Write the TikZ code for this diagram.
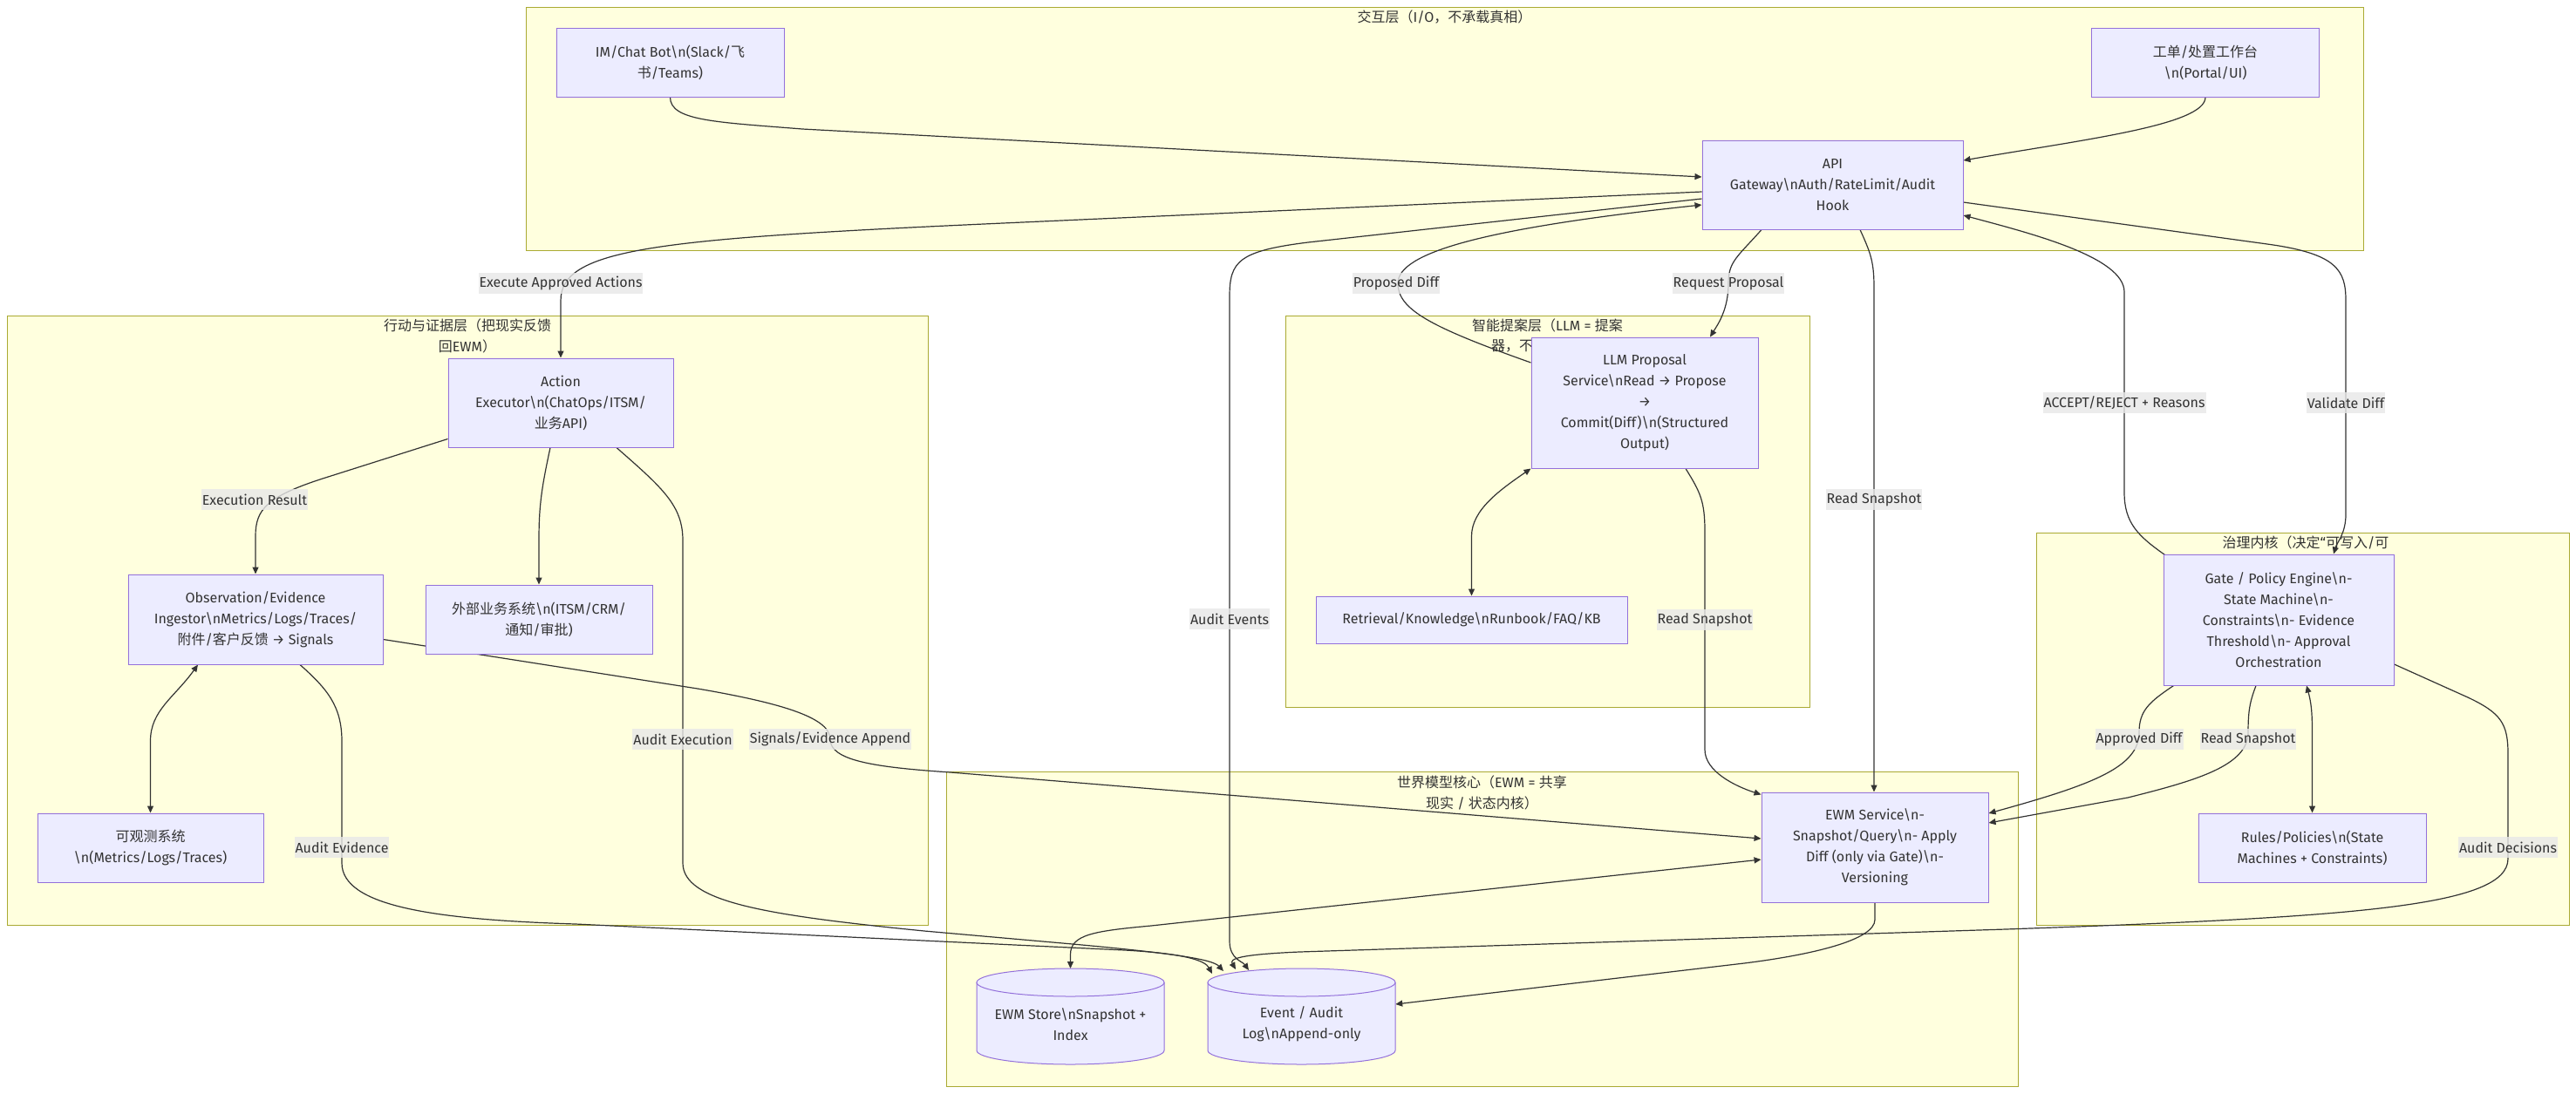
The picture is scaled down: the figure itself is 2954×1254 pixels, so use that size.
\documentclass[tikz,border=0pt]{standalone}
\usepackage{fontspec}
\setmainfont{Fira Sans}
\newfontfamily\cjk{Noto Sans CJK SC}
\usetikzlibrary{arrows.meta,calc}
\definecolor{clfill}{HTML}{FFFFDE}
\definecolor{cldraw}{HTML}{AAAA33}
\definecolor{ndfill}{HTML}{ECECFF}
\definecolor{nddraw}{HTML}{9370DB}
\definecolor{edgec}{HTML}{333333}
\definecolor{txt}{HTML}{333333}
\definecolor{lblbg}{HTML}{E8E8E8}
\pgfdeclarelayer{clusters}
\pgfdeclarelayer{edges}
\pgfdeclarelayer{labels}
\pgfdeclarelayer{shapes}
\pgfsetlayers{clusters,edges,labels,shapes,main}
\newcommand\bs{\textbackslash}
\newcommand\mfont{\fontsize{16pt}{24pt}\selectfont}
% cylinder drawn around a text node (text sits 9 below the geometric centre)
\newcommand\dbshape[1]{%
  \fill[ndfill] ($(#1.center)+(-107.5,-48)$) -- ($(#1.center)+(-107.5,30)$)
    .. controls ($(#1.center)+(-107.5,38.84)$) and ($(#1.center)+(-59.37,46)$) .. ($(#1.center)+(0,46)$)
    .. controls ($(#1.center)+(59.37,46)$) and ($(#1.center)+(107.5,38.84)$) .. ($(#1.center)+(107.5,30)$)
    -- ($(#1.center)+(107.5,-48)$) -- cycle;
  \draw[nddraw,line width=1pt] ($(#1.center)+(-107.5,-48)$) -- ($(#1.center)+(-107.5,30)$)
    .. controls ($(#1.center)+(-107.5,38.84)$) and ($(#1.center)+(-59.37,46)$) .. ($(#1.center)+(0,46)$)
    .. controls ($(#1.center)+(59.37,46)$) and ($(#1.center)+(107.5,38.84)$) .. ($(#1.center)+(107.5,30)$)
    -- ($(#1.center)+(107.5,-48)$);
  \filldraw[fill=ndfill,draw=nddraw,line width=1pt] ($(#1.center)+(0,-48)$) ellipse [x radius=107.5, y radius=16];
}
\begin{document}
\begin{tikzpicture}[x=1pt,y=-1pt,
  box/.style={draw=nddraw, fill=ndfill, line width=1pt, align=center, inner sep=0pt, text=txt, font=\mfont},
  dbtext/.style={align=center, inner sep=0pt, text=txt, font=\mfont, minimum width=215pt, minimum height=92pt},
  cluster/.style={draw=cldraw, fill=clfill, line width=1pt, inner sep=0pt},
  ctitle/.style={text=txt, font=\mfont, align=center, inner sep=0pt},
  conn/.style={draw=edgec, line width=1.2pt, -{Triangle[length=8pt,width=7pt]}},
  bidir/.style={draw=edgec, line width=1.2pt, {Triangle[length=8pt,width=7pt]}-{Triangle[length=8pt,width=7pt]}},
  elabel/.style={fill=lblbg, fill opacity=0.8, text opacity=1, text=txt, font=\mfont, inner xsep=1pt, inner ysep=0pt, minimum height=24pt}
]
\useasboundingbox (0,0) rectangle (2954,1254);

% ---------------- clusters ----------------
\begin{pgfonlayer}{clusters}
\fill[white] (0,0) rectangle (2954,1254);
\node[cluster, minimum width=2107pt, minimum height=279pt] (c1) at (1656.5,147.5) {};
\node[cluster, minimum width=1056pt, minimum height=699pt] (c2) at (536,711.5) {};
\node[cluster, minimum width=601pt, minimum height=449pt] (c3) at (1774.5,586.5) {};
\node[cluster, minimum width=611pt, minimum height=450pt] (c4) at (2640.5,836) {};
\node[cluster, minimum width=1229pt, minimum height=361pt] (c5) at (1699.5,1065.5) {};
\node[ctitle] (t1) at (1656.5,20) {{\cjk 交互层（}I/O{\cjk ，不承载真相）}};
\node[ctitle] (t2) at (536,385) {{\cjk 行动与证据层（把现实反馈}\\{\cjk 回}EWM{\cjk ）}};
\node[ctitle] (t3a) at (1774.5,373) {{\cjk 智能提案层（}LLM = {\cjk 提案}};
\node[ctitle, anchor=west] (t3b) at (1710,397) {{\cjk 器，不}};
\node[ctitle] (t4) at (2644,622) {{\cjk 治理内核（决定}“{\cjk 可写入}/{\cjk 可}};
\node[ctitle] (t5) at (1699.5,909) {{\cjk 世界模型核心（}EWM = {\cjk 共享}\\{\cjk 现实} / {\cjk 状态内核）}};
\end{pgfonlayer}

% ---------------- nodes ----------------
\node[box, minimum width=261pt, minimum height=79pt] (im) at (768.5,71.5) {IM/Chat Bot\bs n(Slack/{\cjk 飞}\\{\cjk 书}/Teams)};
\node[box, minimum width=261pt, minimum height=79pt] (ticket) at (2529,71.5) {{\cjk 工单}/{\cjk 处置工作台}\\\bs n(Portal/UI)};
\node[box, minimum width=299pt, minimum height=102pt] (api) at (2101.5,212) {API\\Gateway\bs nAuth/RateLimit/Audit\\Hook};
\node[box, minimum width=258pt, minimum height=102pt] (action) at (643,462) {Action\\Executor\bs n(ChatOps/ITSM/\\{\cjk 业务}API)};
\node[box, minimum width=292pt, minimum height=103pt] (obs) at (293,710.5) {Observation/Evidence\\Ingestor\bs nMetrics/Logs/Traces/\\{\cjk 附件}/{\cjk 客户反馈} → Signals};
\node[box, minimum width=260pt, minimum height=79pt] (ext) at (618,710.5) {{\cjk 外部业务系统}\bs n(ITSM/CRM/\\{\cjk 通知}/{\cjk 审批})};
\node[box, minimum width=259pt, minimum height=79pt] (mon) at (172.5,972.5) {{\cjk 可观测系统}\\\bs n(Metrics/Logs/Traces)};
\node[box, minimum width=260pt, minimum height=150pt] (llm) at (1886,462) {LLM Proposal\\Service\bs nRead → Propose\\→\\Commit(Diff)\bs n(Structured\\Output)};
\node[box, minimum width=357pt, minimum height=54pt] (ret) at (1687.5,711) {Retrieval/Knowledge\bs nRunbook/FAQ/KB};
\node[box, minimum width=264pt, minimum height=150pt] (gate) at (2613,711) {Gate / Policy Engine\bs n-\\State Machine\bs n-\\Constraints\bs n- Evidence\\Threshold\bs n- Approval\\Orchestration};
\node[box, minimum width=261pt, minimum height=79pt] (rules) at (2651.5,972.5) {Rules/Policies\bs n(State\\Machines + Constraints)};
\node[box, minimum width=260pt, minimum height=126pt] (ewm) at (2150,972) {EWM Service\bs n-\\Snapshot/Query\bs n- Apply\\Diff (only via Gate)\bs n-\\Versioning};
\node[dbtext] (store) at (1227.5,1175) {EWM Store\bs nSnapshot +\\Index};
\node[dbtext] (audit) at (1492.5,1175) {Event / Audit\\Log\bs nAppend-only};
\begin{pgfonlayer}{shapes}
\dbshape{store}
\dbshape{audit}
\end{pgfonlayer}

% ---------------- edges ----------------
\begin{pgfonlayer}{edges}
% IM -> API
\draw[conn] (im.south) .. controls ($(im.south)+(0,27)$) and (820,140) .. (920,148) -- ($(api.west)+(0,-9)$);
% ticket -> API
\draw[conn] (ticket.south) .. controls ($(ticket.south)+(0,32)$) and (2390,160) .. ($(api.east)+(0,-28)$);
% API -> Action
\draw[conn] ($(api.west)+(0,8)$) -- (1150,256) .. controls (750,274) and (643,285) .. (643,345) -- (action.north);
% LLM -> API (Proposed Diff)
\draw[conn] ($(llm.west)+(0,-46)$) .. controls (1640,375) and (1603,355) .. (1603,325) .. controls (1603,290) and (1700,262) .. ($(api.west)+(0,23)$);
% API -> Audit (Audit Events)
\draw[conn] ($(api.west)+(0,16)$) -- (1500,278) .. controls (1420,288) and (1410,300) .. (1410,340) -- (1410,1080) .. controls (1410,1100) and (1425,1103) .. ($(audit.center)+(-60.5,-62)$);
% API -> LLM (Request Proposal)
\draw[conn] ($(api.south)+(-81.5,0)$) .. controls (1992,295) and (1982,300) .. (1982,325) .. controls (1982,355) and (1970,372) .. ($(llm.north)+(75,0)$);
% API -> EWM (Read Snapshot)
\draw[conn] ($(api.south)+(31.5,0)$) .. controls (2145,290) and (2149,300) .. (2149,330) -- ($(ewm.north)+(-1,0)$);
% Gate -> API (ACCEPT/REJECT)
\draw[conn] ($(gate.north west)+(2,1)$) .. controls (2452,615) and (2436,600) .. (2436,565) -- (2436,335) .. controls (2436,295) and (2330,268) .. ($(api.east)+(0,35)$);
% API -> Gate (Validate Diff)
\draw[conn] ($(api.east)+(0,20)$) -- (2600,280) .. controls (2680,291) and (2690,310) .. (2690,345) -- (2690,590) .. controls (2690,612) and (2680,622) .. ($(gate.north)+(63,0)$);
% LLM -> EWM (Read Snapshot)
\draw[conn] ($(llm.south)+(47,0)$) .. controls (1950,565) and (1955,575) .. (1955,610) -- (1955,860) .. controls (1955,885) and (1990,902) .. ($(ewm.north west)+(0,3)$);
% Retrieval <-> LLM
\draw[bidir] (ret.north) -- (1687.5,615) .. controls (1687.5,585) and (1720,562) .. (llm.south west);
% Action -> Observation (Execution Result)
\draw[conn] ($(action.south west)+(0,-10)$) -- (370,549) .. controls (305,570) and (293,585) .. (293,615) -- (obs.north);
% Action -> External
\draw[conn] ($(action.south)+(-12,0)$) .. controls (621,560) and (618,580) .. (618,620) -- (ext.north);
% Action -> Audit (Audit Execution)
\draw[conn] ($(action.south)+(64,0)$) .. controls (760,560) and (783,580) .. (783,620) -- (783,990) .. controls (783,1035) and (880,1050) .. (1060,1068) -- (1230,1083) .. controls (1340,1093) and (1390,1100) .. ($(audit.center)+(-89.5,-61)$);
% Observation -> Audit (Audit Evidence)
\draw[conn] ($(obs.south)+(51,0)$) .. controls (375,790) and (392,810) .. (392,850) -- (392,990) .. controls (392,1040) and (500,1055) .. (660,1060) -- (1290,1090) .. controls (1360,1094) and (1382,1102) .. ($(audit.center)+(-102.5,-58)$);
% Observation -> EWM (Signals/Evidence Append)
\draw[conn] ($(obs.east)+(0,23)$) -- (800,790) .. controls (905,808) and (952,825) .. (952,848) .. controls (952,872) and (1000,880) .. (1090,886) -- ($(ewm.west)+(0,-10)$);
% Observation <-> Monitoring
\draw[bidir] ($(obs.south)+(-66,0)$) .. controls (200,800) and (172.5,815) .. (172.5,850) -- (mon.north);
% Gate -> EWM (Approved Diff)
\draw[conn] ($(gate.south west)+(12,0)$) .. controls (2465,805) and (2453,815) .. (2453,840) .. controls (2453,880) and (2400,900) .. ($(ewm.east)+(0,-39)$);
% Gate -> EWM (Read Snapshot)
\draw[conn] ($(gate.south)+(-26,0)$) .. controls (2580,805) and (2578,815) .. (2578,840) .. controls (2578,878) and (2520,895) .. (2440,915) -- ($(ewm.east)+(0,-28)$);
% Gate <-> Rules
\draw[bidir] ($(gate.south)+(32,0)$) .. controls (2650,805) and (2651.5,815) .. (2651.5,840) -- (rules.north);
% Gate -> Audit (Audit Decisions)
\draw[conn] ($(gate.east)+(0,51)$) -- (2830,800) .. controls (2868,818) and (2876,830) .. (2876,865) -- (2876,985) .. controls (2876,1040) and (2700,1052) .. (2300,1066) -- (1490,1092) .. controls (1420,1095) and (1410,1100) .. ($(audit.center)+(-75.5,-63)$);
% EWM -> Audit
\draw[conn] (ewm.south) -- (2150,1055) .. controls (2150,1078) and (2080,1095) .. (2000,1105) -- ($(audit.east)+(0,-23)$);
% EWM <-> Store
\draw[bidir] ($(store.center)+(0,-64)$) -- (1227.5,1095) .. controls (1227.5,1072) and (1255,1068) .. (1320,1062) -- ($(ewm.west)+(0,14)$);
\end{pgfonlayer}

% ---------------- edge labels ----------------
\begin{pgfonlayer}{labels}
\node[elabel] (lexec) at (643,325) {Execute Approved Actions};
\node[elabel] (lpdiff) at (1601,325) {Proposed Diff};
\node[elabel] (lreq) at (1982,325) {Request Proposal};
\node[elabel] (lacc) at (2436,462) {ACCEPT/REJECT + Reasons};
\node[elabel] (lval) at (2690,462) {Validate Diff};
\node[elabel] (lrs1) at (2149,573) {Read Snapshot};
\node[elabel] (levents) at (1410,710) {Audit Events};
\node[elabel] (lrs2) at (1955,711) {Read Snapshot};
\node[elabel] (lres) at (292,573) {Execution Result};
\node[elabel] (laexec) at (783,848) {Audit Execution};
\node[elabel] (lsig) at (952,848) {Signals/Evidence Append};
\node[elabel] (laevid) at (392,972) {Audit Evidence};
\node[elabel] (lappr) at (2453,848) {Approved Diff};
\node[elabel] (lrs3) at (2578,848) {Read Snapshot};
\node[elabel] (ladec) at (2876,972) {Audit Decisions};
\end{pgfonlayer}
\end{tikzpicture}
\end{document}
